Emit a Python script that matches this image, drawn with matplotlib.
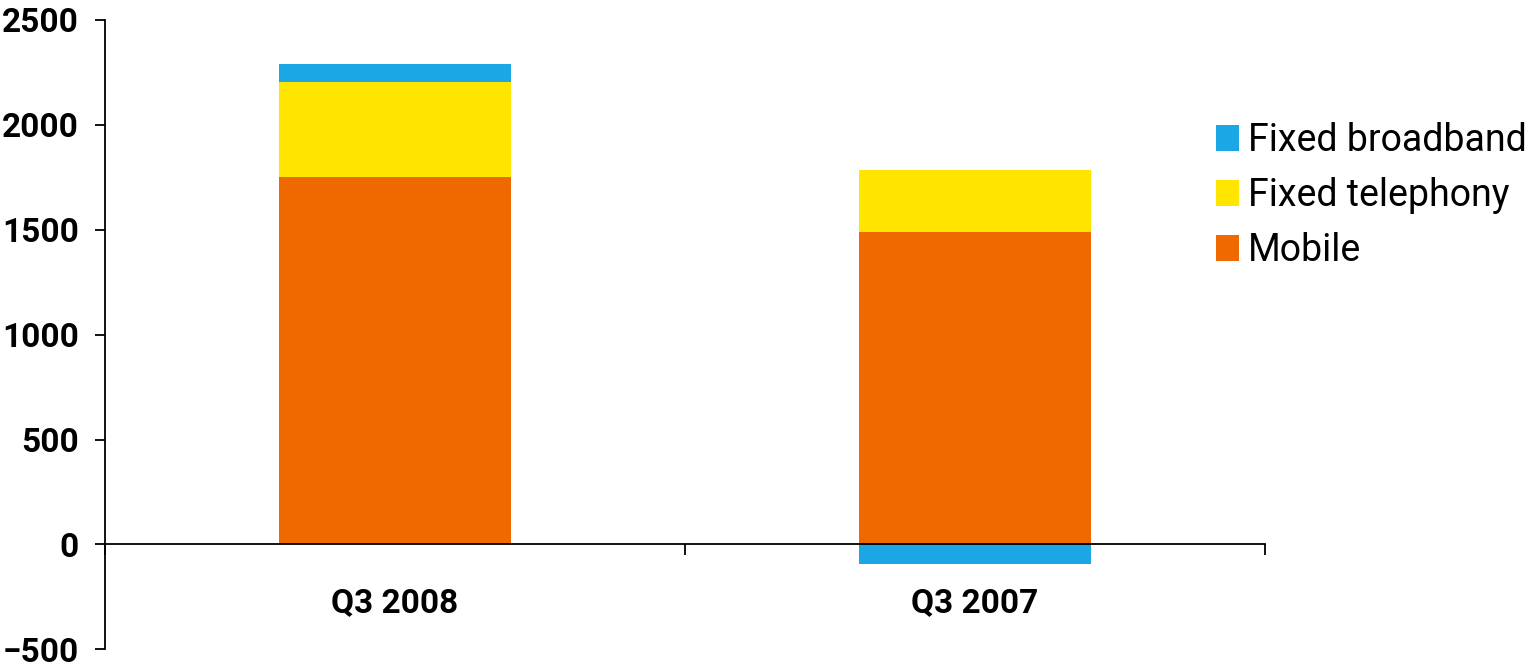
import matplotlib
matplotlib.use('Agg')
import matplotlib.pyplot as plt
import numpy as np

plt.rcParams['font.family'] = ['Roboto', 'DejaVu Sans']

quarters = ['Q3 2008', 'Q3 2007']
mobile = [1750, 1488]
fixed_telephony = [454, 296]
fixed_broadband = [86, -95]

c_mobile = '#F06900'
c_tel = '#FFE500'
c_bb = '#1BA7E6'

fig = plt.figure(figsize=(15.29, 6.66), dpi=100)
ax = fig.add_axes([0.0687, 0.025, 0.7586, 0.945])

x = np.arange(len(quarters))
w = 0.4
mob = np.array(mobile)
tel = np.array(fixed_telephony)
bb = np.array(fixed_broadband)

# broadband stacks on top when positive, hangs below zero when negative
bb_base = np.where(bb >= 0, mob + tel, 0)

ax.bar(x, mob, w, color=c_mobile, label='Mobile', zorder=2)
ax.bar(x, tel, w, bottom=mob, color=c_tel, label='Fixed telephony', zorder=2)
ax.bar(x, bb, w, bottom=bb_base, color=c_bb, label='Fixed broadband', zorder=2)

ax.set_xlim(-0.5, len(quarters) - 0.5)
ax.set_ylim(-500, 2500)
ax.set_yticks(np.arange(-500, 2501, 500))

for s in ['top', 'right']:
    ax.spines[s].set_visible(False)
ax.spines['bottom'].set_position(('data', 0))
ax.spines['bottom'].set_zorder(3)
ax.spines['left'].set_linewidth(1.3)
ax.spines['bottom'].set_linewidth(1.3)

# category boundaries get tick marks, names sit under the bars
ax.set_xticks(np.arange(-0.5, len(quarters), 1.0))
ax.set_xticklabels([])
ax.set_xticks(x, minor=True)
ax.set_xticklabels(quarters, minor=True)
ax.tick_params(axis='x', which='major', direction='out', length=8, width=1.3)
ax.tick_params(axis='x', which='minor', length=0, pad=31, labelsize=24)
ax.tick_params(axis='y', direction='out', length=7, width=1.3, pad=12, labelsize=24)
for t in ax.get_yticklabels() + ax.get_xticklabels(minor=True):
    t.set_fontweight('bold')

handles, labels = ax.get_legend_handles_labels()
fig.legend(handles[::-1], labels[::-1], loc='center left',
           bbox_to_anchor=(0.7855, 0.706), frameon=False, fontsize=27,
           handlelength=0.6, handleheight=0.67, handletextpad=0.25,
           labelspacing=0.48, borderaxespad=0)

fig.savefig('out.png', dpi=100)
